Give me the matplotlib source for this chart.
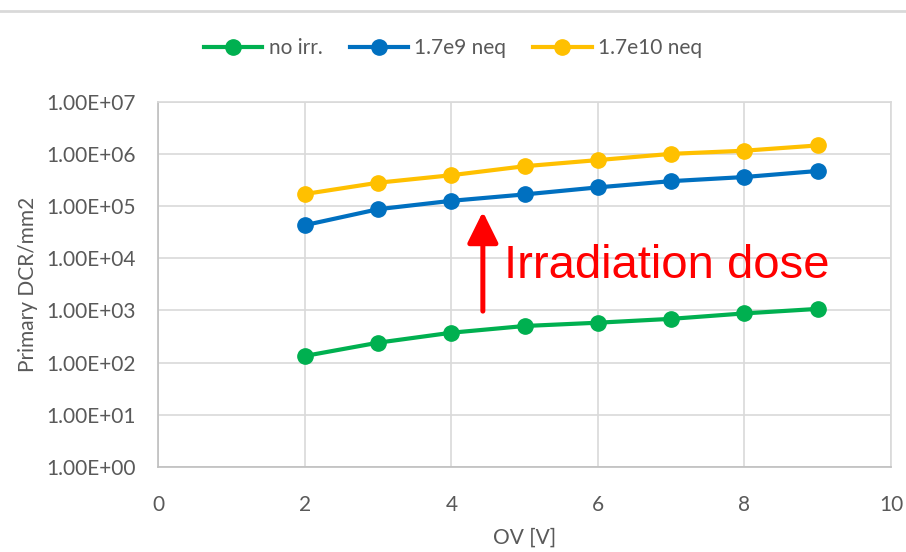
import matplotlib.pyplot as plt
from matplotlib.lines import Line2D

plt.rcParams['font.family'] = ['Lato', 'DejaVu Sans']

ov = [2, 3, 4, 5, 6, 7, 8, 9]
dcr_no_irr = [134, 241, 374, 503, 582, 690, 877, 1070]
dcr_1p7e9 = [4.3e4, 8.7e4, 1.26e5, 1.67e5, 2.28e5, 3.0e5, 3.6e5, 4.7e5]
dcr_1p7e10 = [1.7e5, 2.8e5, 3.9e5, 5.8e5, 7.6e5, 1.0e6, 1.15e6, 1.45e6]

series = [("no irr.", dcr_no_irr, "#00B050"),
          ("1.7e9 neq", dcr_1p7e9, "#0070C0"),
          ("1.7e10 neq", dcr_1p7e10, "#FFC000")]

ytick_vals = [1e0, 1e1, 1e2, 1e3, 1e4, 1e5, 1e6, 1e7]
ytick_labels = ["1.00E+00", "1.00E+01", "1.00E+02", "1.00E+03",
                "1.00E+04", "1.00E+05", "1.00E+06", "1.00E+07"]
xtick_vals = [0, 2, 4, 6, 8, 10]

txt = "#595959"
grid = "#D9D9D9"

fig = plt.figure(figsize=(9.06, 5.52), dpi=100)
ax = fig.add_axes([0.1747, 0.154, 0.8087, 0.6618])

for name, vals, col in series:
    ax.plot(ov, vals, color=col, lw=3, marker='o', markersize=11, label=name)

ax.set_yscale('log')
ax.set_ylim(1, 1e7)
ax.set_xlim(0, 10)
ax.set_yticks(ytick_vals)
ax.set_yticklabels(ytick_labels)
ax.minorticks_off()
ax.set_xticks(xtick_vals)
ax.tick_params(axis='both', length=0, labelsize=15, colors=txt)
ax.tick_params(axis='y', pad=16)
ax.tick_params(axis='x', pad=20)
ax.grid(True, color=grid, lw=1.2)
ax.set_axisbelow(True)
for side in ['top', 'right']:
    ax.spines[side].set_color(grid)
    ax.spines[side].set_linewidth(1.2)
for side in ['left', 'bottom']:
    ax.spines[side].set_color("#BFBFBF")
    ax.spines[side].set_linewidth(1.2)

ax.set_ylabel("Primary DCR/mm2", fontsize=15, color=txt, labelpad=6)
ax.set_xlabel("OV [V]", fontsize=15, color=txt, labelpad=9)

# irradiation arrow
ax.annotate('', xy=(4.43, 7.8e4), xytext=(4.43, 970),
            arrowprops=dict(arrowstyle='-|>,head_length=0.95,head_width=0.47',
                            color='#FF0000', lw=3.6, mutation_scale=20,
                            shrinkA=0, shrinkB=0))
ax.text(4.72, 4.2e3, "Irradiation dose", color='#FF0000', fontsize=34,
        family=['Liberation Sans', 'DejaVu Sans'], va='baseline', ha='left')

fig.legend(loc='center', bbox_to_anchor=(0.5, 0.913), ncol=3, frameon=False,
           fontsize=15, labelcolor=txt, handlelength=2.8, handletextpad=0.3,
           columnspacing=1.3)

# chart frame line at top
fig.add_artist(Line2D([0, 1], [1 - 11 / 552, 1 - 11 / 552], color=grid, lw=2,
                      transform=fig.transFigure))

fig.savefig("out.png", dpi=100)
